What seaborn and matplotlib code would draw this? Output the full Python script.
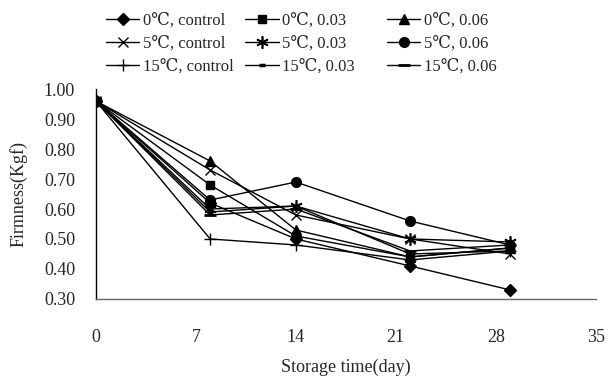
import matplotlib
matplotlib.use("Agg")
import matplotlib.pyplot as plt
import seaborn as sns
import pandas as pd

# Storage days at which firmness was measured
days = [0, 8, 14, 22, 29]

# Firmness (Kgf) per storage temperature / treatment
labels = [
    "0℃, control", "0℃, 0.03", "0℃, 0.06",
    "5℃, control", "5℃, 0.03", "5℃, 0.06",
    "15℃, control", "15℃, 0.03", "15℃, 0.06",
]
t0_control = [0.96, 0.62, 0.50, 0.41, 0.33]
t0_003 = [0.96, 0.68, 0.51, 0.44, 0.47]
t0_006 = [0.96, 0.76, 0.53, 0.44, 0.47]
t5_control = [0.96, 0.73, 0.58, 0.50, 0.45]
t5_003 = [0.96, 0.60, 0.61, 0.50, 0.49]
t5_006 = [0.96, 0.63, 0.69, 0.56, 0.48]
t15_control = [0.96, 0.50, 0.48, 0.43, 0.46]
t15_003 = [0.96, 0.59, 0.61, 0.45, 0.46]
t15_006 = [0.96, 0.58, 0.60, 0.46, 0.48]
series = [t0_control, t0_003, t0_006, t5_control, t5_003, t5_006,
          t15_control, t15_003, t15_006]

x_ticks = [0, 7, 14, 21, 28, 35]
y_ticks = [0.30, 0.40, 0.50, 0.60, 0.70, 0.80, 0.90, 1.00]

# marker style for each series: (marker, size, edge width)
styles = [
    ("D", 6, 1.0), ("s", 6, 1.0), ("^", 7, 1.0),
    ("x", 7, 1.0), ((6, 2, 0), 9, 1.2), ("o", 7, 1.0),
    ("+", 9, 1.0), ("_", 5, 2.5), ("_", 9, 2.0),
]

df = pd.DataFrame(
    [(lab, d, v) for lab, vals in zip(labels, series) for d, v in zip(days, vals)],
    columns=["group", "day", "firmness"],
)

sns.set_theme(style="white")
plt.rcParams["font.family"] = ["Liberation Serif", "DejaVu Serif", "DejaVu Sans"]
plt.rcParams["font.size"] = 13

fig = plt.figure(figsize=(6.11, 3.76), dpi=100)
ax = fig.add_axes([0.157, 0.205, 0.818, 0.558])

handles = []
for lab, (mk, ms, mew) in zip(labels, styles):
    sub = df[df["group"] == lab]
    sns.lineplot(data=sub, x="day", y="firmness", ax=ax, color="black",
                 linewidth=1.0, marker=mk, markersize=ms, markeredgewidth=mew,
                 markeredgecolor="black", markerfacecolor="black", label=lab,
                 legend=False)
    handles.append(ax.lines[-1])

ax.set_xlim(0, 35)
ax.set_ylim(0.30, 1.00)
ax.set_xticks(x_ticks)
ax.set_yticks(y_ticks)
ax.set_xticklabels([str(t) for t in x_ticks], fontsize=13)
ax.set_yticklabels([f"{t:.2f}" for t in y_ticks], fontsize=13)
ax.tick_params(axis="y", direction="in", length=3, width=0.8, color="#999999",
               pad=15)
ax.tick_params(axis="x", direction="in", length=3, width=0.8, color="#999999",
               pad=22)
for side in ("top", "right"):
    ax.spines[side].set_visible(False)
ax.spines["left"].set_color("black")
ax.spines["left"].set_linewidth(1.0)
ax.spines["bottom"].set_color("#666666")
ax.spines["bottom"].set_linewidth(1.0)
ax.set_xlabel("Storage time(day)", fontsize=13, labelpad=9)
ax.set_ylabel("Firmness(Kgf)", fontsize=13, labelpad=12)

# legend laid out as three columns above the plot
col_x = [0.168, 0.396, 0.628]
for c in range(3):
    idx = [c, c + 3, c + 6]
    fig.legend([handles[i] for i in idx], [labels[i] for i in idx],
               loc="upper left", bbox_to_anchor=(col_x[c], 0.975),
               frameon=False, fontsize=12, handlelength=2.0,
               handletextpad=0.2, labelspacing=0.42, borderpad=0.2,
               borderaxespad=0.0)

fig.savefig("out.png", dpi=100)
